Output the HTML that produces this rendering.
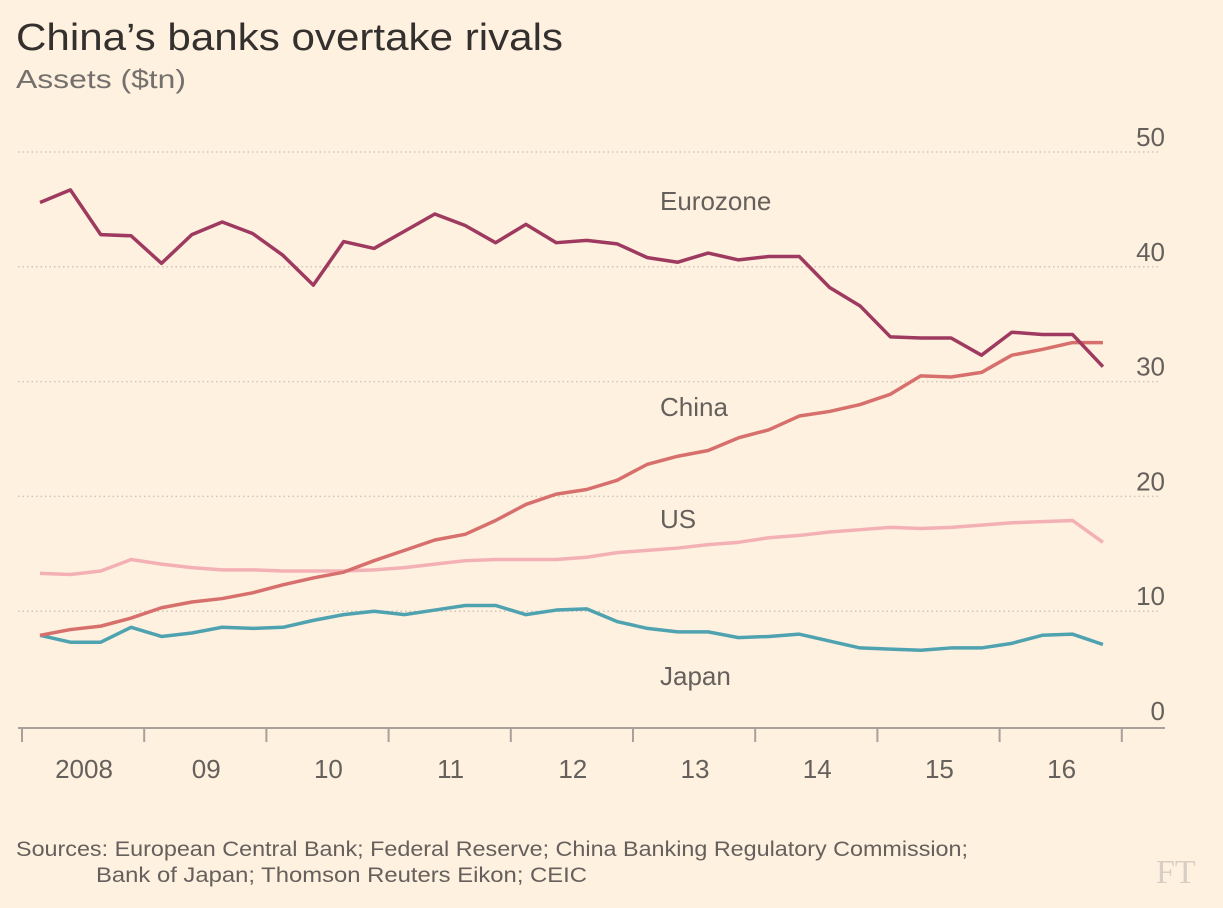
<!DOCTYPE html>
<html><head><meta charset="utf-8"><style>
body{margin:0;background:#fff1e0;}
svg{display:block;font-family:"Liberation Sans",sans-serif;}
</style></head><body>
<svg width="1223" height="908" id="c">
<rect width="1223" height="908" fill="#fff1e0"/>
<text x="16" y="50" font-size="38" fill="#33302e" textLength="547" lengthAdjust="spacingAndGlyphs">China’s banks overtake rivals</text>
<text x="16" y="88" font-size="26" fill="#74706c" textLength="170" lengthAdjust="spacingAndGlyphs">Assets ($tn)</text>
<g id="grid"></g><g id="xaxis"></g><g id="series"></g>
<text x="660" y="210" font-size="26" fill="#66605c">Eurozone</text>
<text x="660" y="416" font-size="26" fill="#66605c">China</text>
<text x="660" y="528" font-size="26" fill="#66605c">US</text>
<text x="660" y="685" font-size="26" fill="#66605c">Japan</text>
<text x="16" y="856" font-size="21" fill="#66605c" textLength="952" lengthAdjust="spacingAndGlyphs">Sources: European Central Bank; Federal Reserve; China Banking Regulatory Commission;</text>
<text x="96" y="882" font-size="21" fill="#66605c" textLength="491" lengthAdjust="spacingAndGlyphs">Bank of Japan; Thomson Reuters Eikon; CEIC</text>
<text x="1156" y="883" font-size="34" fill="#d8cfc4" font-family="Liberation Serif,serif">FT</text>
</svg>
<script>
const yTicks=[0,10,20,30,40,50];
const xLabels=["2008","09","10","11","12","13","14","15","16"];
const eurozone=[45.6,46.7,42.8,42.7,40.3,42.8,43.9,42.9,41.0,38.4,42.2,41.6,43.1,44.6,43.6,42.1,43.7,42.1,42.3,42.0,40.8,40.4,41.2,40.6,40.9,40.9,38.2,36.6,33.9,33.8,33.8,32.3,34.3,34.1,34.1,31.3];
const china=[7.9,8.4,8.7,9.4,10.3,10.8,11.1,11.6,12.3,12.9,13.4,14.4,15.3,16.2,16.7,17.9,19.3,20.2,20.6,21.4,22.8,23.5,24.0,25.1,25.8,27.0,27.4,28.0,28.9,30.5,30.4,30.8,32.3,32.8,33.4,33.4];
const us=[13.3,13.2,13.5,14.5,14.1,13.8,13.6,13.6,13.5,13.5,13.5,13.6,13.8,14.1,14.4,14.5,14.5,14.5,14.7,15.1,15.3,15.5,15.8,16.0,16.4,16.6,16.9,17.1,17.3,17.2,17.3,17.5,17.7,17.8,17.9,16.0];
const japan=[7.9,7.3,7.3,8.6,7.8,8.1,8.6,8.5,8.6,9.2,9.7,10.0,9.7,10.1,10.5,10.5,9.7,10.1,10.2,9.1,8.5,8.2,8.2,7.7,7.8,8.0,7.4,6.8,6.7,6.6,6.8,6.8,7.2,7.9,8.0,7.1];
const NS="http://www.w3.org/2000/svg";
const y=v=>726-v*11.48;
const yearX=i=>22+i*122.2;
const x=q=>40+q*30.37;
function mk(t,a,p){const e=document.createElementNS(NS,t);for(const k in a)e.setAttribute(k,a[k]);p.appendChild(e);return e;}
const grid=document.getElementById('grid');
yTicks.forEach(v=>{
  if(v>0){const l=mk('line',{x1:18,x2:1160,y1:y(v),y2:y(v),stroke:'#cec6b9','stroke-dasharray':'1.5 3','stroke-width':1.5},grid);
  
  }
  const t=mk('text',{x:1165,y:y(v)-6,'font-size':26,fill:'#66605c','text-anchor':'end'},grid);t.textContent=v;
  
  
});
const xa=document.getElementById('xaxis');
const ax=mk('line',{x1:18,x2:1165,y1:728,y2:728,stroke:'#a7a09b','stroke-width':2},xa);


for(let i=0;i<=xLabels.length;i++){
  const tk=mk('line',{x1:yearX(i),x2:yearX(i),y1:728,y2:742,stroke:'#a7a09b','stroke-width':2},xa);
  
  
}
xLabels.forEach((s,i)=>{
  const t=mk('text',{x:yearX(i)+62,y:778,'font-size':26,fill:'#66605c','text-anchor':'middle'},xa);t.textContent=s;
  
  
});
const sg=document.getElementById('series');
[[us,'#f4b1b5','line-us'],[japan,'#4fa3b0','line-japan'],[china,'#d7706c','line-china'],[eurozone,'#9e3a5f','line-eurozone']].forEach(([d,c,n])=>{
  const p=mk('polyline',{points:d.map((v,i)=>x(i)+','+y(v)).join(' '),fill:'none',stroke:c,'stroke-width':3.5,'stroke-linejoin':'round'},sg);
  
  
});
</script>
</body></html>
